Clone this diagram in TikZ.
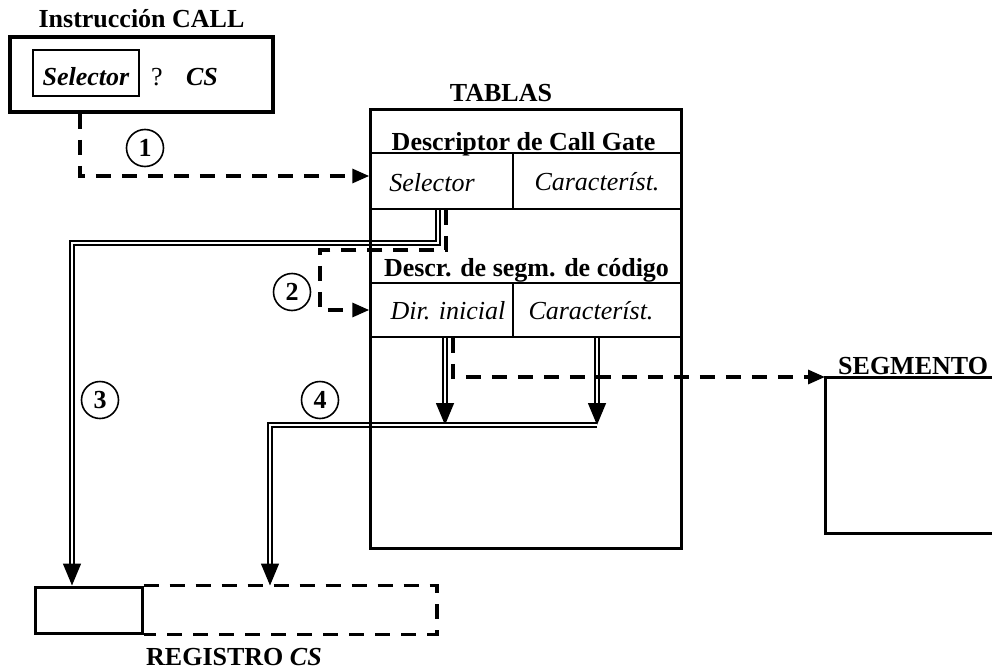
\documentclass[tikz,border=0pt]{standalone}
\usepackage{fontspec}
\setmainfont{Liberation Serif}
\usetikzlibrary{arrows.meta}
\pgfdeclarelayer{bg}
\pgfsetlayers{bg,main}
\begin{document}
\begin{tikzpicture}[x=1pt,y=-1pt,
  txt/.style={font=\fontsize{26}{30}\selectfont, inner sep=0pt},
  bftxt/.style={font=\fontsize{26}{30}\selectfont\bfseries, inner sep=0pt},
  ittxt/.style={font=\fontsize{26}{30}\selectfont\itshape, inner sep=0pt},
  bitxt/.style={font=\fontsize{26}{30}\selectfont\bfseries\itshape, inner sep=0pt},
  cell/.style={draw, line width=1.5pt, rectangle, inner sep=0pt},
  heavybox/.style={draw, line width=3pt, rectangle, inner sep=0pt},
  dashline/.style={line width=3.2pt, dash pattern=on 15pt off 11pt},
  dasharrow/.style={dashline, -{Triangle[length=17pt,width=14pt]}},
  dblline/.style={double, line width=1.5pt, double distance=2.6pt},
  dblarrow/.style={dblline, -{Triangle[length=22pt,width=18pt]}},
  num/.style={draw, circle, line width=1.6pt, minimum size=37pt, inner sep=0pt, font=\fontsize{26}{30}\selectfont\bfseries}
]
\useasboundingbox (0,0) rectangle (992,669);

% Instruction CALL
\node[heavybox, line width=3.5pt, minimum width=263pt, minimum height=75pt] (instr) at (141.5,74.5) {};
\node[draw, line width=1.5pt, minimum width=106pt, minimum height=46pt, inner sep=0pt] (sel) at (86,73) {};
\node[bitxt, anchor=base] (seltxt) at (86,85) {Selector};
\node[txt, anchor=base] (q) at (157,85) {?};
\node[bitxt, anchor=base] (cs) at (202,85) {CS};
\node[bftxt, anchor=base] (title) at (141.5,28) {Instrucción CALL};

% Tables
\node[cell, minimum width=143pt, minimum height=56pt] (cg1) at (441.5,181) {};
\node[cell, minimum width=168pt, minimum height=56pt] (cg2) at (597,181) {};
\node[cell, minimum width=143pt, minimum height=54pt] (cs1) at (441.5,310) {};
\node[cell, minimum width=168pt, minimum height=54pt] (cs2) at (597,310) {};
\node[heavybox, minimum width=311pt, minimum height=439pt] (tab) at (525.5,328.5) {};
\node[bftxt, anchor=base] (tabtxt) at (501,101) {TABLAS};
\node[bftxt, anchor=base] (cgtxt) at (523.5,150.5) {Descriptor de Call Gate};
\node[bftxt, anchor=base] (cstxt) at (526.5,276.5) {Descr. de segm. de código};
\node[ittxt, anchor=base] (t1) at (432,191) {Selector};
\node[ittxt, anchor=base] (t2) at (597,190) {Característ.};
\node[ittxt, anchor=base] (t3) at (448,319) {Dir. inicial};
\node[ittxt, anchor=base] (t4) at (591,319) {Característ.};

% Segment
\coordinate (segtl) at (825,377);
\coordinate (segbl) at (825,533);
\draw[line width=3pt] (992,377) -- (segtl) -- (segbl) -- (992,533);
\node[bftxt, anchor=base west] (segtxt) at (838,374) {SEGMENTO};

% Register CS
\node[heavybox, minimum width=107pt, minimum height=46pt] (reg) at (88.5,610) {};
\coordinate (regr) at (437,610);
\draw[dashline] (reg.north east) -| (regr) |- (reg.south east);
\node[bftxt, anchor=base] (regtxt) at (234,665) {REGISTRO \textit{CS}};

% Step numbers
\node[num] (n1) at (145,148) {1};
\node[num] (n2) at (292,292) {2};
\node[num] (n3) at (100,400) {3};
\node[num] (n4) at (320,400) {4};

% Connectors
\coordinate (b2) at (320,250);
\coordinate (b3) at (72,243);
\coordinate (j4) at (597,425);
\coordinate (b4) at (270,425);
\begin{pgfonlayer}{bg}
\draw[dasharrow] ([xshift=-61.5pt]instr.south) |- ([yshift=5pt]cg1.west);
\draw[dasharrow] ([xshift=4.5pt]cg1.south) |- (b2) |- (cs1.west);
\draw[dblarrow] ([xshift=-3.5pt]cg1.south) |- (b3) -- (b3 |- reg.north);
\draw[dblarrow] ([xshift=3.5pt]cs1.south) -- ([xshift=3.5pt]cs1.south |- j4);
\draw[dblarrow] (cs2.south) -- (cs2.south |- j4);
\draw[dblarrow] (j4) -- (b4) -- (b4 |- reg.north);
\draw[dasharrow] ([xshift=11.5pt]cs1.south) |- (segtl);
\end{pgfonlayer}
\end{tikzpicture}
\end{document}
